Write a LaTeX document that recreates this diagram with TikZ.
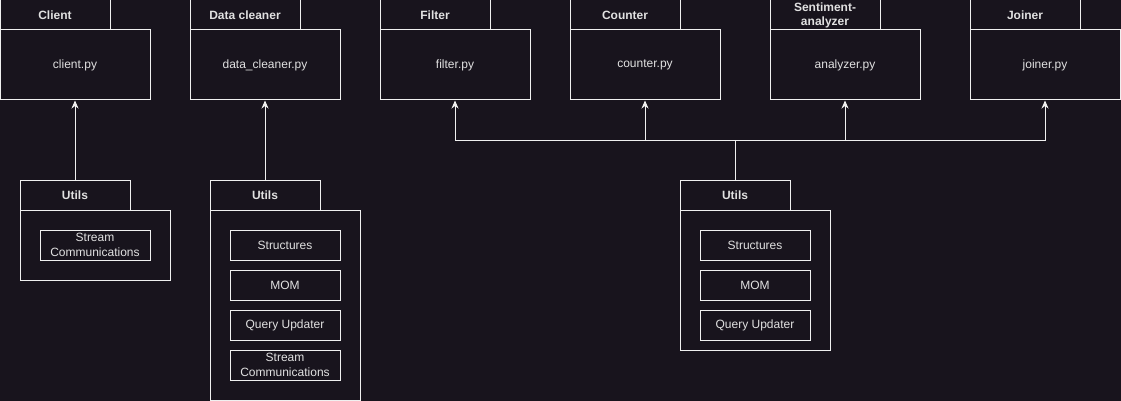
\documentclass[tikz,border=0pt]{standalone}
\usepackage{fontspec}
\setmainfont{Liberation Sans}
\usetikzlibrary{arrows.meta}
\definecolor{bg}{RGB}{24,20,29}
\definecolor{ln}{RGB}{240,240,240}
\definecolor{tx}{RGB}{225,225,225}
\tikzset{
  shapebox/.style={draw=ln, line width=1pt, fill=bg, rectangle, inner sep=0pt, text=tx, font=\fontsize{12}{15}\selectfont, align=center},
  tab/.style={shapebox, minimum width=110pt, minimum height=30pt, font=\fontsize{12}{14}\selectfont\bfseries},
  body/.style={shapebox, minimum width=150pt},
  item/.style={shapebox, minimum width=110pt, minimum height=30pt},
  conn/.style={draw=ln, line width=1pt, -{Stealth[length=8pt,width=7pt,inset=2.5pt]}},
  plain/.style={draw=ln, line width=1pt}
}
\begin{document}
\begin{tikzpicture}[x=1pt,y=-1pt]
\fill[bg] (0,0) rectangle (1121,401);
\useasboundingbox (0,0) rectangle (1121,401);
% top packages
\node[body, minimum height=70pt] (clientb) at (75,65) {client.py};
\node[tab] (clientt) at (55,15) {Client};
\node[body, minimum height=70pt] (cleanb) at (265,65) {data\_cleaner.py};
\node[tab] (cleant) at (245,15) {Data cleaner};
\node[body, minimum height=70pt] (filterb) at (455,65) {filter.py};
\node[tab] (filtert) at (435,15) {Filter};
\node[body, minimum height=70pt] (counterb) at (645,65) {counter.py};
\node[tab] (countert) at (625,15) {Counter};
\node[body, minimum height=70pt] (sentb) at (845,65) {analyzer.py};
\node[tab] (sentt) at (825,15) {Sentiment-\\analyzer};
\node[body, minimum height=70pt] (joinb) at (1045,65) {joiner.py};
\node[tab] (joint) at (1025,15) {Joiner};
% utils 1
\node[body, minimum height=70pt] (u1b) at (95,245) {};
\node[tab] (u1t) at (75,195) {Utils};
\node[item] (u1s) at (95,245) {Stream\\Communications};
% utils 2
\node[body, minimum height=190pt] (u2b) at (285,305) {};
\node[tab] (u2t) at (265,195) {Utils};
\node[item] (u2a) at (285,245) {Structures};
\node[item] (u2m) at (285,285) {MOM};
\node[item] (u2q) at (285,325) {Query Updater};
\node[item] (u2s) at (285,365) {Stream\\Communications};
% utils 3
\node[body, minimum height=140pt] (u3b) at (755,280) {};
\node[tab] (u3t) at (735,195) {Utils};
\node[item] (u3a) at (755,245) {Structures};
\node[item] (u3m) at (755,285) {MOM};
\node[item] (u3q) at (755,325) {Query Updater};
% connectors
\draw[conn] (u1t.north) -- (clientb.south);
\draw[conn] (u2t.north) -- (cleanb.south);
\coordinate (jn) at (735,140);
\draw[plain] (u3t.north) -- (jn);
\draw[conn] (jn) -| (filterb.south);
\draw[conn] (jn) -| (counterb.south);
\draw[conn] (jn) -| (sentb.south);
\draw[conn] (jn) -| (joinb.south);
\end{tikzpicture}
\end{document}
